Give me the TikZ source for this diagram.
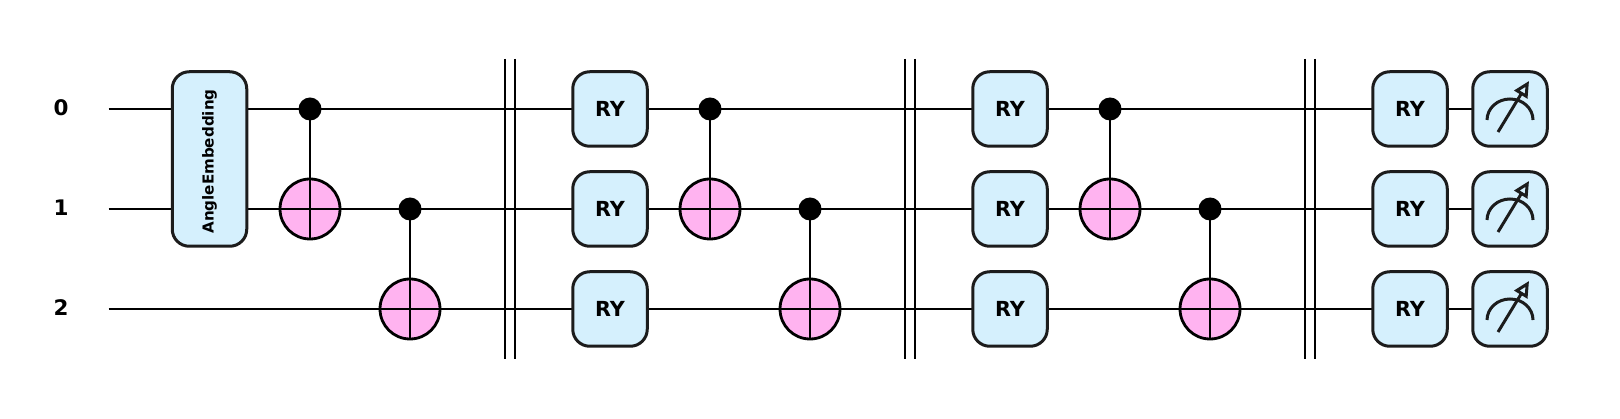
\documentclass[tikz,border=0pt]{standalone}
\usepackage{fontspec}
\setmainfont{DejaVu Sans}
\usetikzlibrary{arrows.meta,positioning,calc}
\definecolor{gatefill}{HTML}{D5F0FD}
\definecolor{xorfill}{HTML}{FFB3F0}
\definecolor{gateline}{HTML}{1C1C1C}
\tikzset{
  wire/.style={line width=0.025cm,black},
  gatebox/.style={draw=gateline,fill=gatefill,line width=0.03cm,rounded corners=0.17cm,inner sep=0pt,
    minimum width=0.745cm,minimum height=0.745cm,font=\fontsize{5.9pt}{7pt}\selectfont\bfseries},
  ctrldot/.style={circle,fill=black,inner sep=0pt,minimum size=0.23cm},
  xorgate/.style={circle,draw=black,fill=xorfill,line width=0.028cm,inner sep=0pt,minimum size=0.6cm},
  wirelabel/.style={font=\fontsize{6.1pt}{7pt}\selectfont\bfseries},
}
\begin{document}
\begin{tikzpicture}[x=1cm,y=1cm]
  \useasboundingbox (0,1.09) rectangle (16.2,-3.10);
  % wires
  \foreach \w in {0,1,2} {
    \node[wirelabel] (label\w) at (0.61,0.01-\w) {\w};
    \coordinate (start\w) at (1.085,-\w);
    \coordinate (end\w) at (15.1,-\w);
    \draw[wire] (start\w) -- (end\w);
  }
  % barriers
  \foreach \n/\x in {a/5.1,b/9.1,c/13.1} {
    \coordinate (\n top) at (\x,0.5);
    \coordinate (\n bot) at (\x,-2.5);
    \draw[wire] ($(\n top)+(-0.048,0)$) -- ($(\n bot)+(-0.048,0)$);
    \draw[wire] ($(\n top)+(0.048,0)$) -- ($(\n bot)+(0.048,0)$);
  }
  % embedding
  \node[gatebox,minimum height=1.745cm] (embed) at (2.095,-0.5) {\rotatebox{90}{\fontsize{4.3pt}{6pt}\selectfont AngleEmbedding\hspace{0.05cm}}};
  % cnot pairs
  \foreach \n/\x in {a/3.1,b/7.1,c/11.1} {
    \node[ctrldot] (\n ctrl0) at (\x,0) {};
    \node[xorgate] (\n xor1) at (\x,-1) {};
    \draw[wire] (\n ctrl0.center) -- (\n xor1.south);
    \draw[wire] (\n xor1.west) -- (\n xor1.east);
  }
  \foreach \n/\x in {a/4.1,b/8.1,c/12.1} {
    \node[ctrldot] (\n ctrl1) at (\x,-1) {};
    \node[xorgate] (\n xor2) at (\x,-2) {};
    \draw[wire] (\n ctrl1.center) -- (\n xor2.south);
    \draw[wire] (\n xor2.west) -- (\n xor2.east);
  }
  % rotations
  \foreach \n/\x in {a/6.1,b/10.1,c/14.1} {
    \foreach \w in {0,1,2} {
      \node[gatebox] (ry\n\w) at (\x,-\w) {RY};
    }
  }
  % measurements
  \foreach \w in {0,1,2} {
    \node[gatebox] (meas\w) at (15.1,-\w) {};
    \draw[line width=0.03cm,gateline] ($(meas\w)+(-0.23,-0.11)$) arc[start angle=180,end angle=0,x radius=0.23,y radius=0.21];
    \draw[line width=0.03cm,gateline,-{Triangle[open,length=0.16cm,width=0.15cm]}] ($(meas\w)+(-0.12,-0.23)$) -- ($(meas\w)+(0.19,0.28)$);
  }
\end{tikzpicture}
\end{document}
